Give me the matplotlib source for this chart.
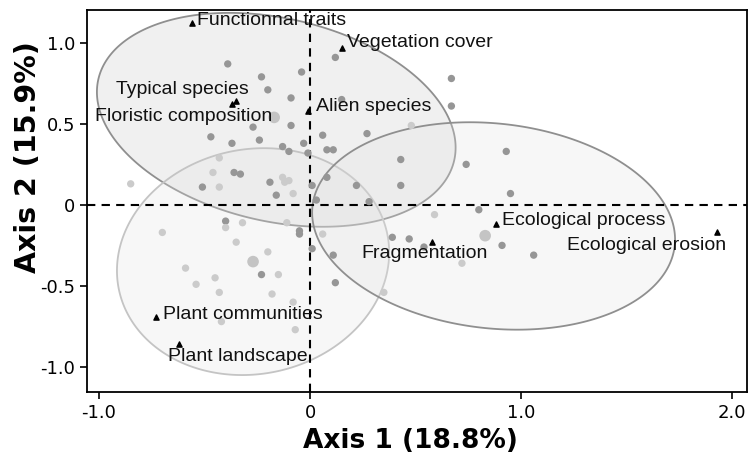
import numpy as np
import matplotlib
matplotlib.use("Agg")
import matplotlib.pyplot as plt
from matplotlib.patches import Polygon
from matplotlib.colors import to_rgba

# -------------------------------------------------------------
# Data
# -------------------------------------------------------------

# site scores (grey dots)
site_x = [-0.39, -0.23, -0.20, -0.09, -0.04, 0.12, 0.67, 0.67, 0.15, -0.17,
          -0.27, -0.09, -0.47, -0.37, -0.24, -0.13, -0.10, -0.03, -0.01, 0.06,
          0.08, 0.11, 0.27, 0.48, 0.43, 0.74, 0.93, 0.43, 0.95, 0.08,
          0.22, 0.01, 0.03, 0.28, -0.85, -0.43, -0.46, -0.36, -0.33, -0.51,
          -0.43, -0.19, -0.13, -0.10, -0.12, -0.16, -0.08, -0.40, -0.40, -0.32,
          -0.35, -0.70, -0.59, -0.54, -0.45, -0.43, -0.27, -0.23, -0.20, -0.15,
          -0.18, -0.08, -0.42, -0.07, -0.11, -0.05, -0.05, 0.01, 0.06, 0.11,
          0.12, 0.35, 0.59, 0.80, 0.83, 0.91, 1.06, 0.72, 0.54, 0.47, 0.39]
site_y = [0.87, 0.79, 0.71, 0.66, 0.82, 0.91, 0.78, 0.61, 0.65, 0.54,
          0.48, 0.49, 0.42, 0.38, 0.40, 0.36, 0.33, 0.38, 0.32, 0.43,
          0.34, 0.34, 0.44, 0.49, 0.28, 0.25, 0.33, 0.12, 0.07, 0.17,
          0.12, 0.12, 0.03, 0.02, 0.13, 0.29, 0.20, 0.20, 0.19, 0.11,
          0.11, 0.14, 0.17, 0.15, 0.14, 0.06, 0.07, -0.10, -0.14, -0.11,
          -0.23, -0.17, -0.39, -0.49, -0.45, -0.54, -0.35, -0.43, -0.29, -0.43,
          -0.55, -0.60, -0.72, -0.77, -0.11, -0.16, -0.18, -0.27, -0.18, -0.31,
          -0.48, -0.54, -0.06, -0.03, -0.19, -0.25, -0.31, -0.36, -0.26, -0.21, -0.20]
# 'm' = medium grey, 'l' = light grey, 'L' = large light grey
site_kind = ['m', 'm', 'm', 'm', 'm', 'm', 'm', 'm', 'm', 'L',
             'm', 'm', 'm', 'm', 'm', 'm', 'm', 'm', 'm', 'm',
             'm', 'm', 'm', 'l', 'm', 'm', 'm', 'm', 'm', 'm',
             'm', 'm', 'm', 'm', 'l', 'l', 'l', 'm', 'm', 'm',
             'l', 'm', 'l', 'l', 'l', 'm', 'l', 'm', 'l', 'l',
             'l', 'l', 'l', 'l', 'l', 'l', 'L', 'm', 'l', 'l',
             'l', 'l', 'l', 'l', 'l', 'm', 'm', 'm', 'l', 'm',
             'm', 'l', 'l', 'm', 'L', 'm', 'm', 'l', 'm', 'm', 'm']

# variable scores (black triangles)
var_names = ['Functionnal traits', 'Vegetation cover', 'Typical species',
             'Floristic composition', 'Alien species', 'Ecological process',
             'Ecological erosion', 'Fragmentation', 'Plant communities',
             'Plant landscape']
var_x = [-0.56, 0.15, -0.37, -0.35, -0.01, 0.88, 1.93, 0.58, -0.73, -0.62]
var_y = [1.12, 0.97, 0.62, 0.64, 0.58, -0.12, -0.17, -0.23, -0.69, -0.86]

# group ellipses: centre, half-extent along x / y, correlation
ell_cx = [-0.16, -0.27, 0.87]
ell_cy = [0.525, -0.35, -0.13]
ell_rx = [0.85, 0.645, 0.86]
ell_ry = [0.66, 0.70, 0.64]
ell_rho = [-0.26, 0.08, -0.13]

x_ticks = [-1.0, 0.0, 1.0, 2.0]
x_ticklabels = ['-1.0', '0', '1.0', '2.0']
y_ticks = [-1.0, -0.5, 0.0, 0.5, 1.0]
y_ticklabels = ['-1.0', '-0.5', '0', '0.5', '1.0']

# -------------------------------------------------------------
# Styling
# -------------------------------------------------------------
kind_style = {
    'm': dict(color='#969696', s=28),
    'l': dict(color='#cbcbcb', s=28),
    'L': dict(color='#c4c4c4', s=70),
}
ell_face = [('#cfcfcf', 0.30), ('#e2e2e2', 0.25), ('#e2e2e2', 0.25)]
ell_edge = ['#8f8f8f', '#c4c4c4', '#8f8f8f']

# label placement: offset in pixels from the triangle, alignment
label_pos = {
    'Functionnal traits': ((5, 3), 'left'),
    'Vegetation cover': ((5, 5), 'left'),
    'Typical species': ((17, 15), 'right'),
    'Floristic composition': ((36, -15), 'right'),
    'Alien species': ((8, 4), 'left'),
    'Ecological process': ((6, 4), 'left'),
    'Ecological erosion': ((9, -13), 'right'),
    'Fragmentation': ((-8, -11), 'center'),
    'Plant communities': ((7, 2), 'left'),
    'Plant landscape': ((-11, -12), 'left'),
}


def ellipse_points(cx, cy, rx, ry, rho, n=300):
    cov = np.array([[rx * rx, rho * rx * ry], [rho * rx * ry, ry * ry]])
    L = np.linalg.cholesky(cov)
    t = np.linspace(0, 2 * np.pi, n)
    pts = L @ np.vstack([np.cos(t), np.sin(t)])
    return np.column_stack([pts[0] + cx, pts[1] + cy])


fig = plt.figure(figsize=(7.5, 4.66), dpi=100)
ax = fig.add_axes([0.116, 0.159, 0.880, 0.820])

for i in range(len(ell_cx)):
    fc, a = ell_face[i]
    poly = Polygon(ellipse_points(ell_cx[i], ell_cy[i], ell_rx[i], ell_ry[i], ell_rho[i]),
                   closed=True, facecolor=to_rgba(fc, a), edgecolor=ell_edge[i],
                   linewidth=1.3, zorder=1)
    ax.add_patch(poly)

ax.axhline(0, color='black', linestyle=(0, (4, 3)), linewidth=1.5, zorder=2)
ax.axvline(0, color='black', linestyle=(0, (4, 3)), linewidth=1.5, zorder=2)

site_x = np.array(site_x)
site_y = np.array(site_y)
site_kind = np.array(site_kind)
for k, st in kind_style.items():
    m = site_kind == k
    ax.scatter(site_x[m], site_y[m], s=st['s'], color=st['color'],
               edgecolors='none', zorder=3)

ax.scatter(var_x, var_y, marker='^', s=14, color='black', zorder=4)
for name, x, y in zip(var_names, var_x, var_y):
    off, ha = label_pos[name]
    ax.annotate(name, (x, y), xytext=off, textcoords='offset pixels',
                ha=ha, va='center', fontsize=14, family='Liberation Sans',
                color='#111111', zorder=5)

ax.set_xlim(-1.057, 2.071)
ax.set_ylim(-1.154, 1.204)
ax.set_xticks(x_ticks)
ax.set_xticklabels(x_ticklabels)
ax.set_yticks(y_ticks)
ax.set_yticklabels(y_ticklabels)
ax.tick_params(axis='both', direction='out', length=5, width=1.2, labelsize=13)
for sp in ax.spines.values():
    sp.set_linewidth(1.3)

ax.set_xlabel('Axis 1 (18.8%)', fontsize=19, fontweight='bold')
ax.xaxis.set_label_coords(0.49, -0.095)
ax.set_ylabel('Axis 2 (15.9%)', fontsize=20.5, fontweight='bold')
ax.yaxis.set_label_coords(-0.068, 0.615)

fig.savefig('out.png', dpi=100)
